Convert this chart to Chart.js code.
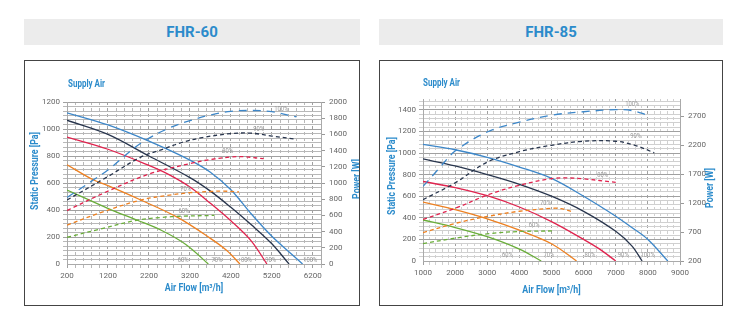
<!DOCTYPE html>
<html>
<head>
<meta charset="utf-8">
<script src="https://cdn.jsdelivr.net/npm/chart.js@4.4.1/dist/chart.umd.min.js"></script>
<style>
  body { margin:0; background:#fff; width:741px; height:321px; position:relative; overflow:hidden; }
  .head { position:absolute; top:19px; height:26px; background:#ececec; color:#2b8bcb;
          font:bold 15px Roboto, sans-serif; text-align:center; line-height:26px; }
  .box  { position:absolute; top:60px; height:246px; border:1px solid #444; box-sizing:border-box; pointer-events:none; }
  canvas { position:absolute; top:60px; }
</style>
</head>
<body>
<div class="head" style="left:24px;width:336px">FHR-60</div>
<div class="head" style="left:379px;width:344px">FHR-85</div>
<canvas id="c60" width="336" height="246" style="left:24px"></canvas>
<canvas id="c85" width="344" height="246" style="left:379px"></canvas>
<div class="box" style="left:24px;width:336px"></div>
<div class="box" style="left:379px;width:344px"></div>

<script>
/* =========== 1. DỮ LIỆU FHR-60 =========== */
// áp suất tĩnh (Pa) theo lưu lượng (m3/h)
const q60_100 = [200, 1200, 2200, 3200, 3700, 4200, 4700, 5200, 5600, 5950];
const pa60_100 = [1120, 1030, 910, 770, 680, 550, 370, 205, 95, 0];
const q60_90 = [200, 1200, 2200, 3200, 3700, 4200, 4700, 5200, 5620];
const pa60_90 = [1065, 960, 800, 640, 540, 420, 290, 150, 0];
const q60_80 = [200, 1200, 2200, 2700, 3200, 3700, 4200, 4700, 5080];
const pa60_80 = [940, 850, 730, 660, 570, 450, 320, 170, 0];
const q60_70 = [200, 850, 1200, 2000, 2900, 3700, 4100, 4420];
const pa60_70 = [735, 622, 580, 474, 345, 190, 100, 0];
const q60_60 = [200, 1250, 1900, 2500, 3100, 3650];
const pa60_60 = [548, 405, 326, 250, 145, 0];
// công suất (W)
const qw60_100 = [200, 850, 1200, 2000, 2700, 3200, 3700, 4200, 4700, 5200, 5800];
const w60_100 = [820, 1040, 1160, 1490, 1680, 1770, 1840, 1885, 1895, 1880, 1815];
const qw60_90 = [200, 1200, 2000, 2500, 3000, 3500, 4200, 4700, 5200, 5800];
const w60_90 = [790, 1080, 1320, 1410, 1500, 1560, 1610, 1615, 1580, 1540];
const qw60_80 = [200, 1200, 2200, 3200, 3700, 4200, 4500, 5000];
const w60_80 = [660, 900, 1110, 1240, 1290, 1320, 1325, 1300];
const qw60_70 = [200, 1000, 2000, 2700, 3200, 3700, 4000, 4400];
const w60_70 = [480, 630, 790, 850, 880, 895, 900, 890];
const qw60_60 = [200, 1000, 1900, 2500, 3000, 3800];
const w60_60 = [330, 430, 540, 575, 590, 600];
const xTicks60 = [200, 1200, 2200, 3200, 4200, 5200, 6200];
const yTicks60 = [0, 200, 400, 600, 800, 1000, 1200];
const wTicks60 = [0, 200, 400, 600, 800, 1000, 1200, 1400, 1600, 1800, 2000];

/* =========== 2. DỮ LIỆU FHR-85 =========== */
const q85_100 = [1000, 2000, 3000, 4000, 5000, 6000, 7000, 7500, 8000, 8620];
const pa85_100 = [1080, 1030, 960, 870, 765, 600, 415, 310, 200, 0];
const q85_90 = [1000, 2000, 3000, 4000, 5000, 6000, 7000, 7500, 7820];
const pa85_90 = [945, 880, 800, 710, 600, 460, 275, 140, 0];
const q85_80 = [1000, 2000, 3000, 4000, 5000, 6000, 6500, 7000];
const pa85_80 = [736, 680, 605, 500, 365, 200, 110, 0];
const q85_70 = [1000, 2000, 3000, 4000, 5000, 5780];
const pa85_70 = [545, 475, 390, 285, 160, 0];
const q85_60 = [1000, 2000, 3000, 4000, 4680];
const pa85_60 = [380, 310, 225, 110, 0];
const qw85_100 = [1000, 1500, 2000, 3000, 4000, 5000, 6000, 7000, 7500, 8000];
const w85_100 = [1490, 1800, 2100, 2430, 2600, 2720, 2780, 2815, 2800, 2720];
const qw85_90 = [1000, 2000, 3000, 4000, 5000, 6000, 7000, 7600, 8200];
const w85_90 = [1260, 1550, 1910, 2090, 2200, 2270, 2270, 2200, 2070];
const qw85_80 = [1000, 2000, 3000, 4000, 5000, 5500, 6000, 7000];
const w85_80 = [920, 1110, 1340, 1510, 1625, 1635, 1620, 1560];
const qw85_70 = [1000, 2000, 3000, 4000, 5000, 5300, 5620];
const w85_70 = [690, 850, 970, 1060, 1110, 1105, 1055];
const qw85_60 = [1000, 2000, 3000, 4000, 5100];
const w85_60 = [500, 595, 670, 710, 720];
const xTicks85 = [1000, 2000, 3000, 4000, 5000, 6000, 7000, 8000, 9000];
const yTicks85 = [0, 200, 400, 600, 800, 1000, 1200, 1400];
const wTicks85 = [200, 700, 1200, 1700, 2200, 2700];

const speeds = ['100%', '90%', '80%', '70%', '60%'];
// vị trí chữ % (lưu lượng, giá trị)
const lab60_solid = [[6137, 30], [5170, 30], [4579, 30], [3857, 30], [3037, 30]];
const lab60_dash = [[5430, 1914], [4880, 1667], [4124, 1387], [3095, 926], [3053, 646]];
const lab85_solid = [[7992, 49], [7234, 49], [6195, 49], [4917, 49], [3629, 49]];
const lab85_dash = [[7514, 2907], [7618, 2349], [6590, 1688], [4813, 1189], [4460, 815]];

/* =========== 3. VẼ =========== */
const COLORS = ['#3d87c9', '#28354d', '#e0234e', '#ee8020', '#6aae3a'];
const BLUE = '#2b8bcb';

function pts(xs, ys) { return xs.map((x, i) => ({ x: x, y: ys[i] })); }

function texts(o) {
  return {
    id: 'texts',
    afterDraw(chart) {
      const { ctx, chartArea: a, scales } = chart;
      const put = (t, x, y, rot, sx) => {
        ctx.save(); ctx.translate(x, y); if (rot) ctx.rotate(rot); ctx.scale(sx, 1);
        ctx.fillText(t, 0, 0); ctx.restore();
      };
      ctx.save();
      ctx.fillStyle = BLUE;
      ctx.font = 'bold 10px Roboto, sans-serif';
      ctx.textBaseline = 'middle';
      ctx.textAlign = 'left';
      put('Supply Air', o.supX, o.supY, 0, 0.8);
      ctx.textAlign = 'center';
      put('Air Flow [m³/h]', (a.left + a.right) / 2, o.xtY, 0, 0.88);
      put('Static Pressure [Pa]', o.ytX, o.ytY, -Math.PI / 2, 0.88);
      put('Power [W]', o.wtX, o.wtY, -Math.PI / 2, 0.88);
      ctx.fillStyle = '#999';
      ctx.font = '6.5px Roboto, sans-serif';
      o.solid.forEach((p, i) => put(speeds[i], scales.x.getPixelForValue(p[0]), scales.y.getPixelForValue(p[1]), 0, 0.9));
      o.dash.forEach((p, i) => put(speeds[i], scales.x.getPixelForValue(p[0]), scales.y2.getPixelForValue(p[1]), 0, 0.9));
      ctx.restore();
    }
  };
}

function makeChart(id, o) {
  const ds = [];
  o.power.forEach((c, i) => ds.push({
    data: pts(c[0], c[1]), yAxisID: 'y2', borderColor: COLORS[i], borderWidth: 1.3,
    borderDash: i === 0 ? [8, 6] : [4, 3], tension: 0.35, pointRadius: 0, fill: false
  }));
  o.press.forEach((c, i) => ds.push({
    data: pts(c[0], c[1]), yAxisID: 'y', borderColor: COLORS[i], borderWidth: 1.3,
    tension: 0.35, pointRadius: 0, fill: false
  }));
  const tickFont = { family: 'Roboto, sans-serif', size: 8 };
  const isMajorY = v => { const r = Math.round(v); return o.yTicks.includes(r) && Math.abs(r - v) < 0.01; };
  return new Chart(document.getElementById(id), {
    type: 'line',
    data: { datasets: ds },
    options: {
      responsive: false, animation: false,
      layout: { padding: { top: o.padTop, left: 0, right: 0, bottom: 0 } },
      plugins: { legend: { display: false }, tooltip: { enabled: false } },
      scales: {
        x: {
          type: 'linear', min: o.xMin, max: o.xMax,
          afterBuildTicks: s => { const t = []; for (let v = o.xMin; v <= o.xMax; v += 200) t.push({ value: v }); s.ticks = t; },
          afterFit: s => { s.height = o.xH; },
          ticks: { autoSkip: false, maxRotation: 0, padding: 3, font: tickFont, color: '#666',
                   callback: v => o.xTicks.includes(v) ? String(v) : '' },
          grid: { color: c => o.xTicks.includes(c.tick.value) ? o.major : o.minor, tickLength: 4 },
          border: { color: '#aaa', dash: [3, 3] }
        },
        y: {
          min: 0, max: o.yMax,
          afterBuildTicks: s => { const t = []; for (let i = 0; i <= o.yDiv; i++) t.push({ value: i * o.yMax / o.yDiv }); s.ticks = t; },
          afterFit: s => { s.width = o.yW; },
          ticks: { autoSkip: false, padding: 3, font: tickFont, color: '#666',
                   callback: v => isMajorY(v) ? String(Math.round(v)) : '' },
          grid: { color: c => c.tick.value === 0 ? 'rgba(0,0,0,0)' : (isMajorY(c.tick.value) ? o.major : o.minor), tickLength: 4 },
          border: { color: '#aaa' }
        },
        y2: {
          position: 'right', min: o.wMin, max: o.wMax,
          afterBuildTicks: s => { s.ticks = o.wTicks.map(v => ({ value: v })); },
          afterFit: s => { s.width = o.wW; },
          ticks: { autoSkip: false, padding: 4, font: tickFont, color: '#666', callback: v => String(v) },
          grid: { drawOnChartArea: false, color: '#999', tickLength: 4 },
          border: { color: '#aaa' }
        }
      }
    },
    plugins: [texts(o)]
  });
}

makeChart('c60', {
  press: [[q60_100, pa60_100], [q60_90, pa60_90], [q60_80, pa60_80], [q60_70, pa60_70], [q60_60, pa60_60]],
  power: [[qw60_100, w60_100], [qw60_90, w60_90], [qw60_80, w60_80], [qw60_70, w60_70], [qw60_60, w60_60]],
  xMin: 200, xMax: 6400, xTicks: xTicks60,
  yMax: 1200, yDiv: 36, yTicks: yTicks60,
  wMin: 0, wMax: 2000, wTicks: wTicks60,
  padTop: 42, yW: 43, wW: 39, xH: 42,
  major: '#a0a0a0', minor: '#b8b8b8',
  supX: 44, supY: 24, xtY: 228, ytX: 11, ytY: 111, wtX: 333, wtY: 119,
  solid: lab60_solid, dash: lab60_dash
});

makeChart('c85', {
  press: [[q85_100, pa85_100], [q85_90, pa85_90], [q85_80, pa85_80], [q85_70, pa85_70], [q85_60, pa85_60]],
  power: [[qw85_100, w85_100], [qw85_90, w85_90], [qw85_80, w85_80], [qw85_70, w85_70], [qw85_60, w85_60]],
  xMin: 1000, xMax: 9000, xTicks: xTicks85,
  yMax: 1500, yDiv: 37.5, yTicks: yTicks85,
  wMin: 200, wMax: 3000, wTicks: wTicks85,
  padTop: 39, yW: 44, wW: 43, xH: 45,
  major: '#a0a0a0', minor: '#d0d0d0',
  supX: 44, supY: 23, xtY: 230, ytX: 13, ytY: 116, wtX: 331, wtY: 128,
  solid: lab85_solid, dash: lab85_dash
});
</script>
</body>
</html>
